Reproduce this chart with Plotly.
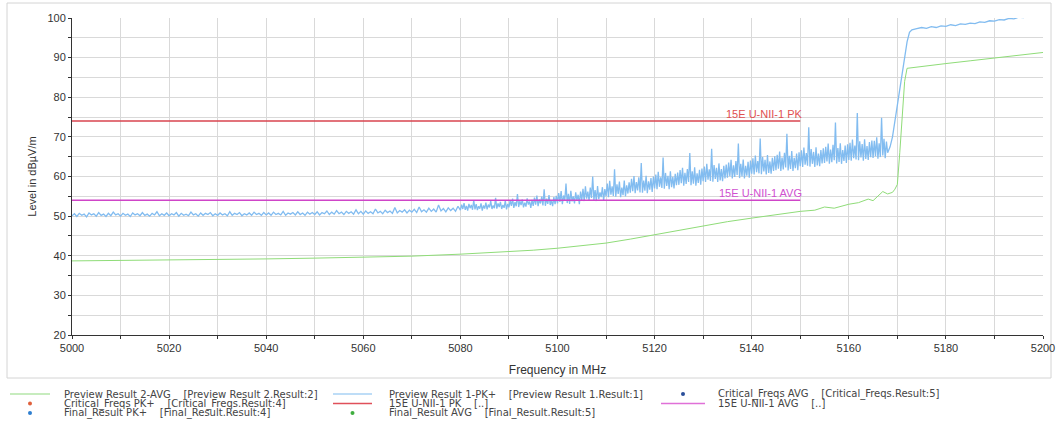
import numpy as np
import plotly.graph_objects as go

# ---- data ----
# Preview Result 1-PK+
# 5000 .. 5079.5, 0.5 MHz
pk_level_a = [
    50.1, 50.6, 49.9, 50.7, 50.2, 50.5, 49.8, 50.8, 50.3, 50.6, 50.0, 50.9, 50.2, 50.5, 49.9, 50.7, 50.1, 51.0, 50.3, 50.6,
    50.0, 50.7, 50.2, 50.5, 49.9, 50.8, 50.3, 50.6, 50.1, 50.9, 50.2, 50.5, 50.0, 50.7, 50.3, 51.1, 50.1, 50.6, 50.2, 50.8,
    50.1, 50.6, 50.3, 50.9, 50.0, 50.7, 50.2, 50.5, 50.1, 51.0, 50.3, 50.6, 50.0, 50.8, 50.2, 50.7, 50.4, 50.9, 50.1, 50.6,
    50.2, 50.8, 50.3, 50.6, 50.1, 51.1, 50.2, 50.7, 50.4, 50.9, 50.1, 50.6, 50.3, 50.8, 50.2, 51.0, 50.4, 50.7, 50.2, 50.9,
    50.3, 50.8, 50.2, 51.0, 50.4, 50.7, 50.3, 51.2, 50.2, 50.8, 50.5, 50.9, 50.3, 51.1, 50.4, 50.8, 50.2, 51.0, 50.5, 50.9,
    50.4, 51.1, 50.3, 50.9, 50.6, 51.3, 50.4, 51.0, 50.5, 51.4, 50.6, 51.0, 50.4, 51.2, 50.7, 51.1, 50.5, 51.6, 50.6, 51.2,
    50.5, 51.3, 50.7, 51.1, 50.6, 51.8, 50.8, 51.2, 50.6, 51.5, 50.9, 51.3, 50.7, 52.2, 50.8, 51.4, 51.0, 51.6, 50.8, 51.5,
    51.0, 51.7, 50.9, 52.3, 51.1, 51.6, 51.0, 52.0, 51.2, 51.8, 51.0, 52.8, 51.3, 51.9, 51.1, 52.1, 51.4, 52.0, 51.2, 52.5,
]
# 5080 .. 5167.75, 0.25 MHz (one row = 5 MHz)
pk_level_b = [
    51.5, 52.9, 51.8, 53.3, 51.6, 52.6, 51.4, 53.1, 52.0, 52.8, 51.6, 54.0, 51.7, 53.0, 51.5, 52.5, 51.9, 53.2, 51.4, 52.7,
    51.9, 53.4, 51.7, 52.9, 52.2, 53.8, 51.8, 52.7, 52.0, 54.6, 51.9, 53.2, 52.3, 53.6, 51.8, 52.8, 52.1, 53.9, 51.7, 53.1,
    52.2, 54.0, 52.6, 54.4, 52.1, 53.5, 52.5, 55.6, 52.3, 53.8, 52.8, 54.2, 52.2, 53.4, 52.4, 54.5, 52.9, 53.7, 52.1, 54.1,
    52.6, 54.7, 52.9, 55.2, 52.5, 54.2, 53.2, 54.9, 52.7, 56.8, 52.6, 54.4, 53.1, 55.3, 52.8, 54.0, 52.5, 54.8, 53.0, 55.1,
    53.2, 55.8, 53.6, 56.3, 53.0, 55.2, 53.9, 58.2, 53.3, 55.6, 53.1, 56.4, 53.7, 55.0, 53.2, 56.0, 54.0, 55.4, 53.0, 56.2,
    54.0, 56.9, 53.8, 57.5, 54.4, 56.2, 53.9, 57.2, 54.6, 60.0, 54.1, 56.6, 53.8, 57.6, 54.3, 56.0, 54.8, 57.3, 53.9, 56.8,
    55.0, 58.2, 54.8, 58.9, 55.4, 57.5, 55.1, 61.8, 54.9, 58.0, 55.6, 58.7, 54.8, 57.2, 55.3, 59.0, 55.0, 57.8, 55.7, 58.5,
    55.9, 59.4, 56.3, 60.1, 55.8, 58.6, 56.5, 59.8, 56.0, 63.4, 55.9, 59.0, 56.4, 60.2, 55.8, 58.8, 56.7, 59.6, 56.1, 60.0,
    57.0, 60.5, 56.8, 61.2, 57.4, 59.8, 57.1, 64.8, 56.9, 60.9, 57.6, 60.2, 56.8, 61.3, 57.3, 59.9, 57.0, 60.7, 57.8, 61.0,
    57.9, 61.6, 58.3, 62.2, 57.7, 60.9, 58.1, 61.9, 58.6, 65.9, 57.8, 61.3, 58.2, 62.3, 57.7, 60.8, 58.4, 61.7, 57.9, 62.0,
    58.8, 62.5, 58.6, 63.2, 59.2, 61.8, 58.9, 67.0, 58.7, 62.9, 59.4, 62.2, 58.6, 63.3, 59.0, 61.9, 58.8, 62.7, 59.5, 63.0,
    59.7, 63.5, 60.1, 64.2, 59.5, 62.8, 59.9, 63.9, 60.4, 68.3, 59.6, 63.2, 60.0, 64.3, 59.5, 62.7, 60.2, 63.7, 59.7, 64.0,
    60.7, 64.6, 60.5, 65.3, 61.1, 63.9, 60.8, 69.6, 60.6, 64.9, 61.3, 64.2, 60.5, 65.4, 60.9, 63.8, 60.7, 64.7, 61.4, 65.1,
    61.6, 65.5, 62.0, 66.3, 61.4, 64.8, 61.8, 66.0, 62.3, 70.8, 61.5, 65.2, 61.9, 66.4, 61.4, 64.7, 62.1, 65.8, 61.6, 66.1,
    62.6, 66.6, 62.4, 67.3, 63.0, 65.9, 62.7, 72.4, 62.5, 66.9, 63.2, 66.2, 62.4, 67.4, 62.8, 65.8, 62.6, 66.7, 63.3, 67.1,
    63.4, 67.5, 63.8, 68.3, 63.2, 66.8, 63.6, 68.0, 64.1, 73.6, 63.3, 67.2, 63.7, 68.4, 63.2, 66.7, 63.9, 67.8, 63.4, 68.1,
    64.2, 68.5, 64.0, 69.3, 64.6, 67.8, 64.3, 76.0, 64.1, 68.9, 64.8, 68.2, 64.0, 69.4, 64.4, 67.7, 64.2, 68.7, 64.9, 69.1,
    64.7, 69.0, 65.1, 69.9, 64.5, 68.4, 64.9, 74.8, 65.3, 69.5, 64.6, 68.8,
]
# 5168 .. 5173, 0.5 MHz (step up)
pk_level_c = [66.0, 67.5, 70.0, 74.0, 78.0, 82.0, 86.0, 90.0, 94.0, 96.4, 97.0]
# 5174 .. 5200, 1 MHz
pk_level_d = [
    97.3, 97.6, 97.4, 97.8, 97.6, 98.0, 97.9,
    98.3, 98.1, 98.5, 98.4, 98.7, 98.6, 99.0, 98.9, 99.3, 99.2,
    99.6, 99.5, 99.9, 99.8, 100.2, 100.1, 100.5, 100.4, 100.8, 100.7,
]
pk_freq = np.concatenate([
    np.arange(5000, 5079.75, 0.5),
    np.arange(5080, 5167.8, 0.25),
    np.arange(5168, 5173.25, 0.5),
    np.arange(5174, 5200.5, 1.0),
])
pk_level = pk_level_a + pk_level_b + pk_level_c + pk_level_d
assert len(pk_freq) == len(pk_level)

# Preview Result 2-AVG
avg_freq = [5000, 5010, 5020, 5030, 5040, 5050, 5060, 5070, 5080, 5085, 5090, 5095,
            5100, 5105, 5110, 5115, 5120, 5125, 5130, 5135, 5140, 5145, 5150, 5153,
            5155, 5157, 5160, 5162, 5164, 5165, 5166, 5167, 5168, 5169, 5169.5,
            5170, 5170.5, 5171, 5171.5, 5172, 5175, 5180, 5185, 5190, 5195, 5200]
avg_level = [38.7, 38.8, 38.9, 39.0, 39.2, 39.4, 39.6, 39.9, 40.4, 40.7, 41.0, 41.4,
             41.9, 42.5, 43.2, 44.2, 45.3, 46.5, 47.6, 48.6, 49.5, 50.4, 51.2, 51.5,
             52.3, 52.0, 53.0, 53.4, 54.3, 53.9, 55.0, 56.2, 55.6, 56.0, 56.8,
             58.0, 66.0, 76.0, 84.0, 87.3, 87.8, 88.5, 89.2, 89.9, 90.6, 91.3]

# limit lines
limit_freq = [5000, 5150]
pk_limit = [74, 74]
avg_limit = [54, 54]

legend_labels = [
    'Preview Result 2-AVG   [Preview Result 2.Result:2]',
    'Preview Result 1-PK+   [Preview Result 1.Result:1]',
    'Critical_Freqs AVG   [Critical_Freqs.Result:5]',
    'Critical_Freqs PK+   [Critical_Freqs.Result:4]',
    '15E U-NII-1 PK   [..]',
    '15E U-NII-1 AVG   [..]',
    'Final_Result PK+   [Final_Result.Result:4]',
    'Final_Result AVG   [Final_Result.Result:5]',
]
legend_kinds = ['line', 'line', 'dot', 'dot', 'line', 'line', 'dot', 'dot']
legend_colors = ['#b5e6a8', '#a9d2f5', '#2a4f9a', '#e0603c', '#e0505a', '#e070d8', '#2f7fd0', '#3fae3f']

# ---- layout in pixels ----
W, H = 1058, 443
L, R, T, B = 72, 15, 18, 108
PW = W - L - R
PH = H - T - B


def px_x(px):
    return (px - L) / PW


def px_y(py):
    return (H - B - py) / PH


fig = go.Figure()

fig.add_trace(go.Scatter(x=avg_freq, y=avg_level, mode='lines',
                         line=dict(color='#8fdc78', width=1), showlegend=False))
fig.add_trace(go.Scatter(x=pk_freq, y=pk_level, mode='lines',
                         line=dict(color='#82bcf0', width=1.3), showlegend=False))
fig.add_trace(go.Scatter(x=limit_freq, y=pk_limit, mode='lines',
                         line=dict(color='#d9454f', width=1.5), showlegend=False))
fig.add_trace(go.Scatter(x=limit_freq, y=avg_limit, mode='lines',
                         line=dict(color='#cf45c8', width=1.5), showlegend=False))

# limit labels
fig.add_annotation(x=limit_freq[-1], y=pk_limit[-1], text='15E U-NII-1 PK', showarrow=False,
                   xanchor='right', yanchor='bottom', yshift=-1, xshift=4,
                   font=dict(size=11, color='#e05050', family='Liberation Sans, Arial'))
fig.add_annotation(x=limit_freq[-1], y=avg_limit[-1], text='15E U-NII-1 AVG', showarrow=False,
                   xanchor='right', yanchor='bottom', yshift=-1, xshift=4,
                   font=dict(size=11, color='#d050d0', family='Liberation Sans, Arial'))

# outer frame
fig.add_shape(type='rect', xref='paper', yref='paper',
              x0=px_x(7), x1=px_x(1051), y0=px_y(378), y1=px_y(3),
              line=dict(color='#d4d4d4', width=1), layer='below')

# hand-made legend (3 columns, row-major)
col_sym = [(10, 50), (333, 372), (661, 705)]
col_text = [62, 387, 716]
row_y = [394, 403.5, 413]
for i, (lab, kind, col) in enumerate(zip(legend_labels, legend_kinds, legend_colors)):
    r, c = divmod(i, 3)
    y = px_y(row_y[r])
    x0, x1 = col_sym[c]
    if kind == 'line':
        fig.add_shape(type='line', xref='paper', yref='paper',
                      x0=px_x(x0), x1=px_x(x1), y0=y, y1=y,
                      line=dict(color=col, width=1.5))
    else:
        cx = (x0 + x1) / 2
        fig.add_shape(type='circle', xref='paper', yref='paper',
                      x0=px_x(cx - 2), x1=px_x(cx + 2),
                      y0=y - 2 / PH, y1=y + 2 / PH,
                      fillcolor=col, line=dict(color=col, width=0))
    fig.add_annotation(xref='paper', yref='paper', x=px_x(col_text[c]), y=y,
                       text=lab.replace('   ', '\u00a0\u00a0\u00a0\u00a0'), showarrow=False,
                       xanchor='left', yanchor='middle',
                       font=dict(size=10, color='#444', family='DejaVu Sans, Arial'))

fig.update_xaxes(range=[5000, 5200], dtick=20, tick0=5000, automargin=False,
                 showgrid=True, gridcolor='#d9d9d9', gridwidth=1,
                 showline=True, linecolor='#333', linewidth=1,
                 ticks='outside', ticklen=3, tickcolor='#333',
                 minor=dict(dtick=10, showgrid=True, gridcolor='#d9d9d9',
                            ticks='outside', ticklen=3, tickcolor='#333'),
                 zeroline=False, mirror=False,
                 tickfont=dict(size=11, color='#333'),
                 title=dict(text='Frequency in MHz', font=dict(size=12, color='#333'), standoff=12))
fig.update_yaxes(range=[20, 100], dtick=10, tick0=20, automargin=False,
                 showgrid=True, gridcolor='#d9d9d9', gridwidth=1,
                 showline=True, linecolor='#333', linewidth=1,
                 ticks='outside', ticklen=3, tickcolor='#333',
                 minor=dict(dtick=5, showgrid=True, gridcolor='#d9d9d9',
                            ticks='outside', ticklen=3, tickcolor='#333'),
                 zeroline=False,
                 tickfont=dict(size=11, color='#333'),
                 title=dict(text='Level in dBµV/m', font=dict(size=11, color='#333'), standoff=8))

fig.update_layout(
    width=W, height=H,
    margin=dict(l=L, r=R, t=T, b=B),
    paper_bgcolor='white',
    plot_bgcolor='white',
    font=dict(family='Liberation Sans, Arial', color='#333'),
    showlegend=False,
)

# page body has an 8px default margin; drop it so the figure sits at (0, 0)
fig.write_html('out.html', config={'displayModeBar': False},
               post_script="document.body.style.margin='0';")
